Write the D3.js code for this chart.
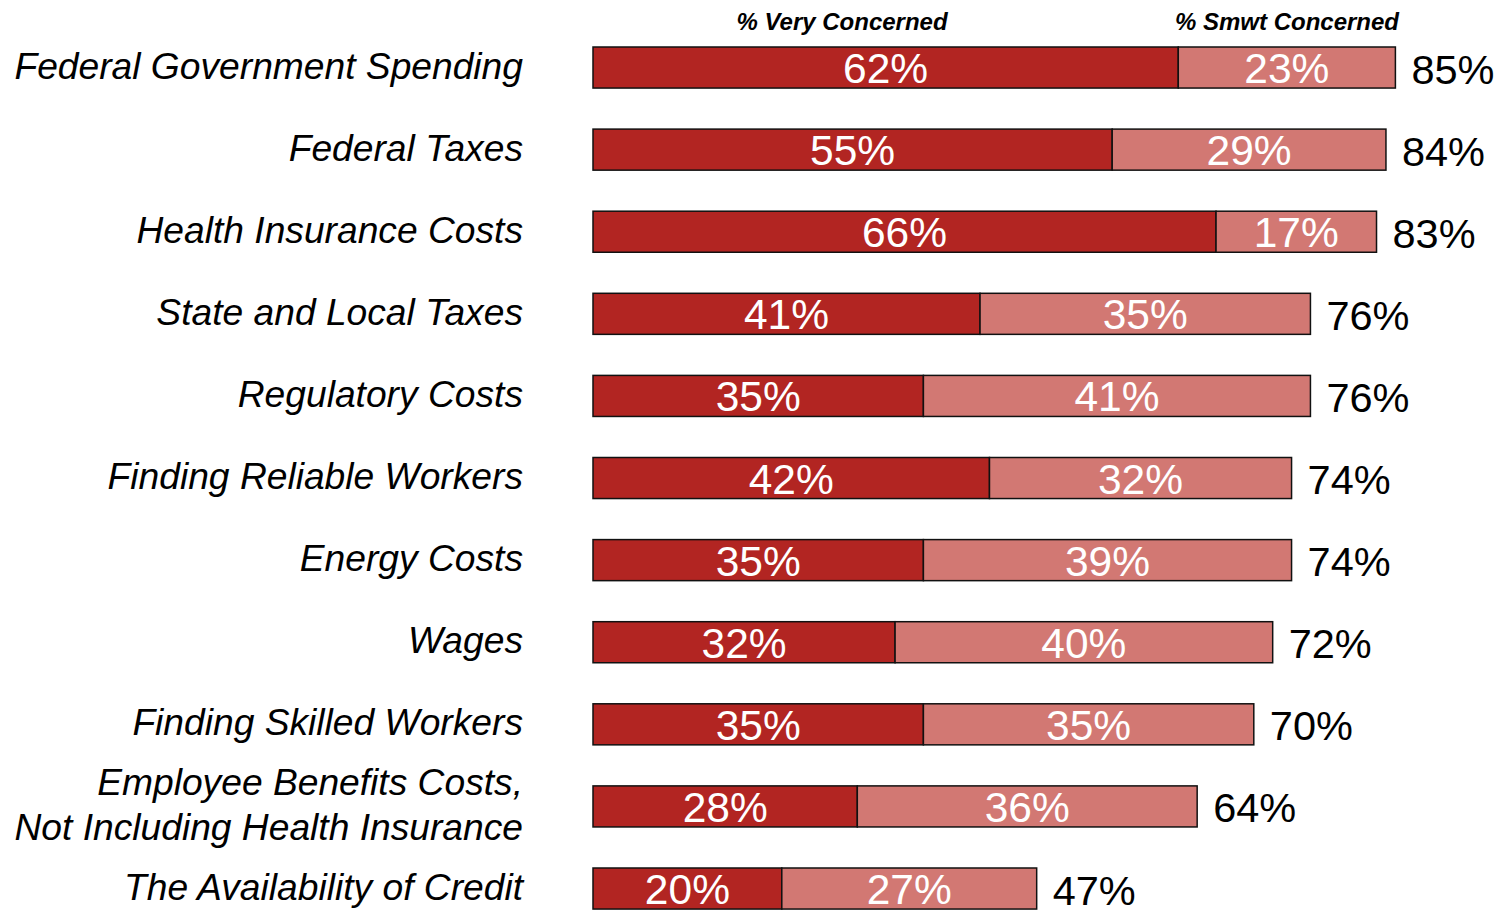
<!DOCTYPE html>
<html>
<head>
<meta charset="utf-8">
<script src="https://cdn.jsdelivr.net/npm/d3@7"></script>
<style>
  html, body { margin: 0; padding: 0; background: #fff; }
  svg { display: block; font-family: "Liberation Sans", Arial, sans-serif; }
</style>
</head>
<body>
<svg id="chart" width="1506" height="912"></svg>
<script>
// Business concerns: share of respondents very / somewhat concerned
const categories = [
  "Federal Government Spending",
  "Federal Taxes",
  "Health Insurance Costs",
  "State and Local Taxes",
  "Regulatory Costs",
  "Finding Reliable Workers",
  "Energy Costs",
  "Wages",
  "Finding Skilled Workers",
  "Employee Benefits Costs,\nNot Including Health Insurance",
  "The Availability of Credit"
];
const veryConcerned = [62, 55, 66, 41, 35, 42, 35, 32, 35, 28, 20];
const smwtConcerned = [23, 29, 17, 35, 41, 32, 39, 40, 35, 36, 27];
const totals        = [85, 84, 83, 76, 76, 74, 74, 72, 70, 64, 47];
const seriesNames   = ["% Very Concerned", "% Smwt Concerned"];

const colors = ["#B22522", "#D27873"];

const svg = d3.select("#chart");

const x = d3.scaleLinear().domain([0, 100]).range([593, 593 + 944]);
const y = d3.scaleBand()
  .domain(categories)
  .range([47, 47 + 82.1 * 10.5])
  .paddingInner(0.5)
  .paddingOuter(0);

const rows = categories.map((c, i) => ({
  cat: c,
  segs: [
    { s: 0, x0: 0, x1: veryConcerned[i], v: veryConcerned[i] },
    { s: 1, x0: veryConcerned[i], x1: veryConcerned[i] + smwtConcerned[i], v: smwtConcerned[i] }
  ],
  total: totals[i]
}));

const g = svg.selectAll("g.row").data(rows).join("g").attr("class", "row");

// stacked segments
g.selectAll("rect").data(d => d.segs.map(s => ({ ...s, cat: d.cat }))).join("rect")
  .attr("x", d => x(d.x0))
  .attr("y", d => y(d.cat))
  .attr("width", d => x(d.x1) - x(d.x0))
  .attr("height", y.bandwidth())
  .attr("fill", d => colors[d.s])
  .attr("stroke", "#111")
  .attr("stroke-width", 1.5);

// segment value labels
g.selectAll("text.seg").data(d => d.segs.map(s => ({ ...s, cat: d.cat }))).join("text")
  .attr("class", "seg")
  .attr("x", d => (x(d.x0) + x(d.x1)) / 2)
  .attr("y", d => y(d.cat) + y.bandwidth() / 2 + 15.5)
  .attr("text-anchor", "middle")
  .attr("fill", "#fff")
  .attr("font-size", 42.5)
  .text(d => d.v + "%");

// totals to the right of each bar
g.append("text")
  .attr("x", d => x(d.total) + 16)
  .attr("y", d => y(d.cat) + y.bandwidth() / 2 + 16)
  .attr("fill", "#000")
  .attr("font-size", 41.5)
  .text(d => d.total + "%");

// category labels (right-aligned, italic)
g.append("text")
  .attr("text-anchor", "end")
  .attr("font-size", 37.2)
  .attr("font-style", "italic")
  .attr("fill", "#000")
  .each(function (d) {
    const lines = d.cat.split("\n");
    const cy = y(d.cat) + y.bandwidth() / 2 + 11;
    const lh = 45;
    const start = cy - (lines.length - 1) * lh / 2;
    d3.select(this).selectAll("tspan").data(lines).join("tspan")
      .attr("x", 523)
      .attr("y", (l, j) => start + j * lh)
      .text(l => l);
  });

// series headers
svg.selectAll("text.hdr").data(seriesNames).join("text")
  .attr("class", "hdr")
  .attr("x", (d, i) => [842, 1287][i])
  .attr("y", 30)
  .attr("text-anchor", "middle")
  .attr("font-size", 24)
  .attr("font-weight", "bold")
  .attr("font-style", "italic")
  .attr("fill", "#000")
  .text(d => d);
</script>
</body>
</html>
